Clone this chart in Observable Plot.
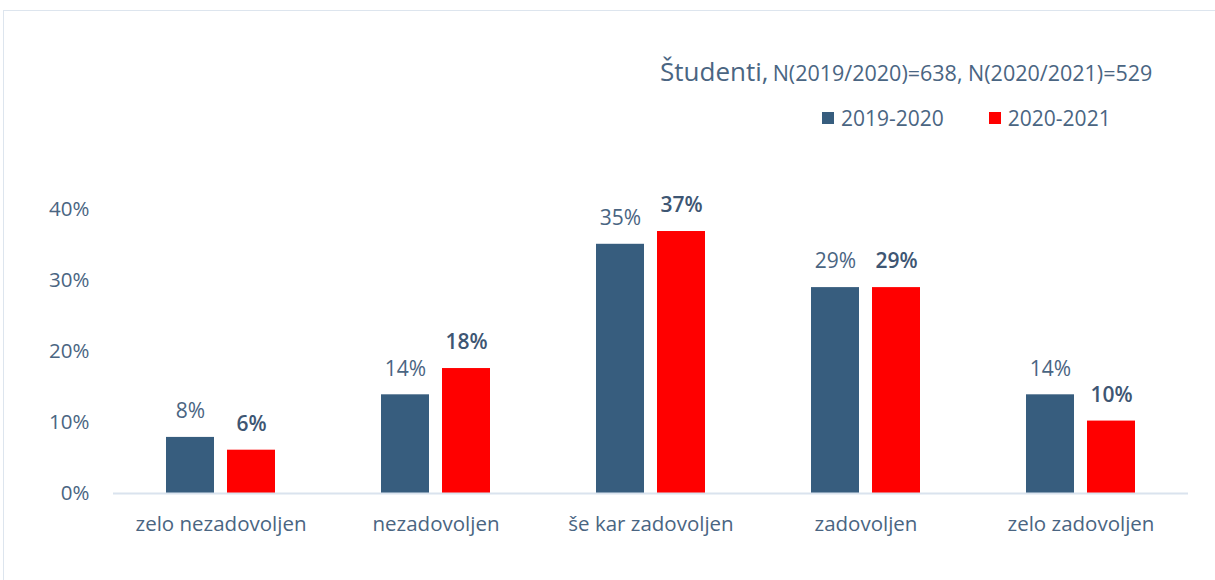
<!DOCTYPE html>
<html>
<head>
<meta charset="utf-8">
<script src="https://cdn.jsdelivr.net/npm/d3@7"></script>
<script src="https://cdn.jsdelivr.net/npm/@observablehq/plot@0.6"></script>
<style>
  html, body { margin: 0; padding: 0; background: #fff; }
  body { width: 1215px; height: 580px; position: relative; overflow: hidden; font-family: "Open Sans", sans-serif; }
  #frame { position: absolute; left: 3px; top: 10px; width: 1260px; height: 600px; border: 1.5px solid #dde5ee; box-sizing: border-box; }
  #title { position: absolute; left: 660px; top: 53px; color: #4a6582; white-space: nowrap; }
  #title .big { font-size: 26px; }
  #title .small { font-size: 21.5px; }
  #legend { position: absolute; left: 822px; top: 104px; color: #4a6582; font-size: 21px; white-space: nowrap; display: flex; align-items: center; }
  #legend .sw { display: inline-block; width: 12px; height: 12px; margin-right: 7px; }
  #legend .item { display: flex; align-items: center; margin-right: 45px; }
  #chart { position: absolute; left: 0; top: 180px; }
</style>
</head>
<body>
<div id="frame"></div>
<div id="title"><span class="big">Študenti,</span> <span class="small">N(2019/2020)=638, N(2020/2021)=529</span></div>
<div id="legend"></div>
<div id="chart"></div>
<script>
const categories = ["zelo nezadovoljen", "nezadovoljen", "še kar zadovoljen", "zadovoljen", "zelo zadovoljen"];
const series = ["2019-2020", "2020-2021"];
const labels2019 = [8, 14, 35, 29, 14];
const labels2021 = [6, 18, 37, 29, 10];
const heights2019 = [7.9, 13.9, 35.1, 29.0, 13.9];
const heights2021 = [6.1, 17.6, 36.9, 29.0, 10.2];
const colors = ["#375d7e", "#ff0000"];
const yTicks = [0, 10, 20, 30, 40];

const data = [];
categories.forEach((c, i) => {
  data.push({cat: c, ser: series[0], h: heights2019[i], shown: labels2019[i]});
  data.push({cat: c, ser: series[1], h: heights2021[i], shown: labels2021[i]});
});

const legend = document.getElementById("legend");
series.forEach((s, i) => {
  const it = document.createElement("div");
  it.className = "item";
  it.innerHTML = `<span class="sw" style="background:${colors[i]}"></span>${s}`;
  legend.appendChild(it);
});

const textColor = "#4a6582";
const chart = Plot.plot({
  width: 1215,
  height: 400,
  marginLeft: 112,
  marginRight: 27,
  marginTop: 29,
  marginBottom: 87,
  style: {fontFamily: "'Open Sans', sans-serif", fontSize: "20px", color: textColor, background: "transparent"},
  fx: {domain: categories, padding: 0, label: null},
  x: {domain: series, paddingInner: 0.22, paddingOuter: 0.86, axis: null},
  y: {domain: [0, 40], label: null, axis: null},
  color: {domain: series, range: colors},
  marks: [
    Plot.axisY({ticks: yTicks, tickSize: 0, tickPadding: 24, tickFormat: d => d + "%", fontSize: 20.5, fill: textColor, label: null}),
    Plot.axisFx({anchor: "bottom", tickSize: 0, tickPadding: 23, fontSize: 20.5, fill: textColor, label: null}),
    Plot.barY(data, {fx: "cat", x: "ser", y: "h", fill: "ser"}),
    Plot.ruleY([0], {stroke: "#dae3ee", strokeWidth: 2}),
    Plot.text(data.filter(d => d.ser === series[0]), {fx: "cat", x: "ser", y: "h", text: d => d.shown + "%", dy: -26, fill: textColor, fontSize: 21}),
    Plot.text(data.filter(d => d.ser === series[1]), {fx: "cat", x: "ser", y: "h", text: d => d.shown + "%", dy: -26, fill: "#3e5673", fontSize: 21, fontWeight: 600})
  ]
});
document.getElementById("chart").appendChild(chart);
</script>
</body>
</html>
